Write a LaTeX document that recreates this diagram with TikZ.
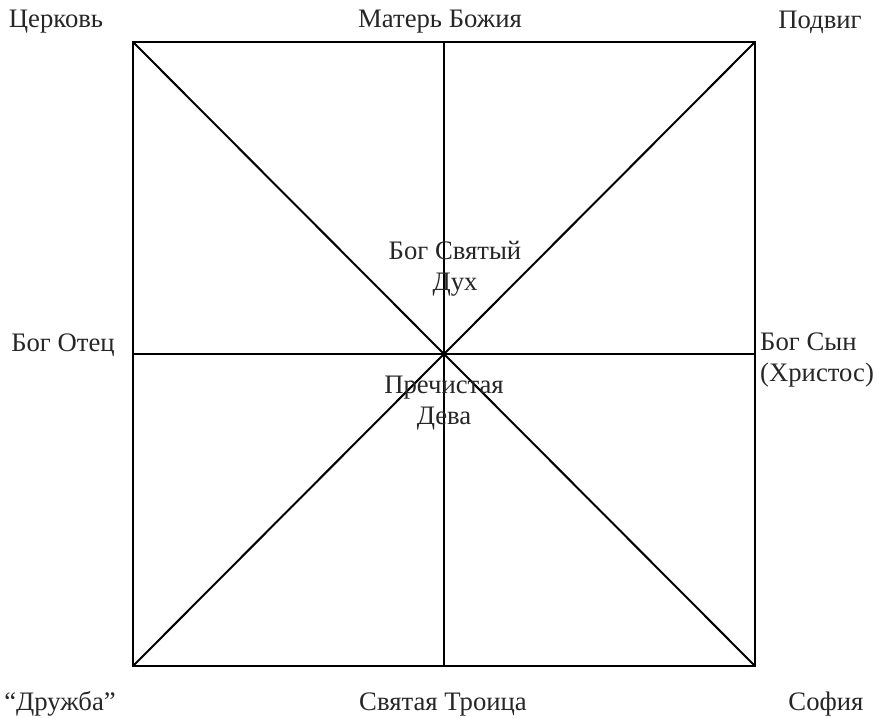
\documentclass[tikz,border=0pt]{standalone}
\usepackage{fontspec}
\setmainfont{Liberation Serif}
\begin{document}
\begin{tikzpicture}[x=1pt,y=-1pt,
  edge/.style={line width=2pt,draw=black},
  lbl/.style={font=\fontsize{26.7}{31}\selectfont,text=black!85,inner sep=0pt,align=center},
  lbll/.style={lbl,anchor=west,align=left}]
\useasboundingbox (0,0) rectangle (877,717);
\coordinate (tl) at (133,42);
\coordinate (tr) at (755,42);
\coordinate (bl) at (133,666);
\coordinate (br) at (755,666);
\coordinate (tm) at (444,42);
\coordinate (bm) at (444,666);
\coordinate (lm) at (133,354);
\coordinate (rm) at (755,354);
\draw[edge] (tl) -- (tr) -- (br) -- (bl) -- cycle;
\draw[edge] (tl) -- (br);
\draw[edge] (tr) -- (bl);
\draw[edge] (tm) -- (bm);
\draw[edge] (lm) -- (rm);
\node[lbl] (n1) at (56,22) {Церковь};
\node[lbl] (n2) at (440,22) {Матерь Божия};
\node[lbl] (n3) at (820,22) {Подвиг};
\node[lbl] (n4) at (455,269) {Бог Святый\\Дух};
\node[lbl] (n5) at (444,403) {Пречистая\\Дева};
\node[lbl] (n6) at (63,345) {Бог Отец};
\node[lbll] (n7) at (760,360) {Бог Сын\\(Христос)};
\node[lbl] (n8) at (60,704) {“Дружба”};
\node[lbl] (n9) at (443,704) {Святая Троица};
\node[lbl] (n10) at (826,704) {София};
\end{tikzpicture}
\end{document}
